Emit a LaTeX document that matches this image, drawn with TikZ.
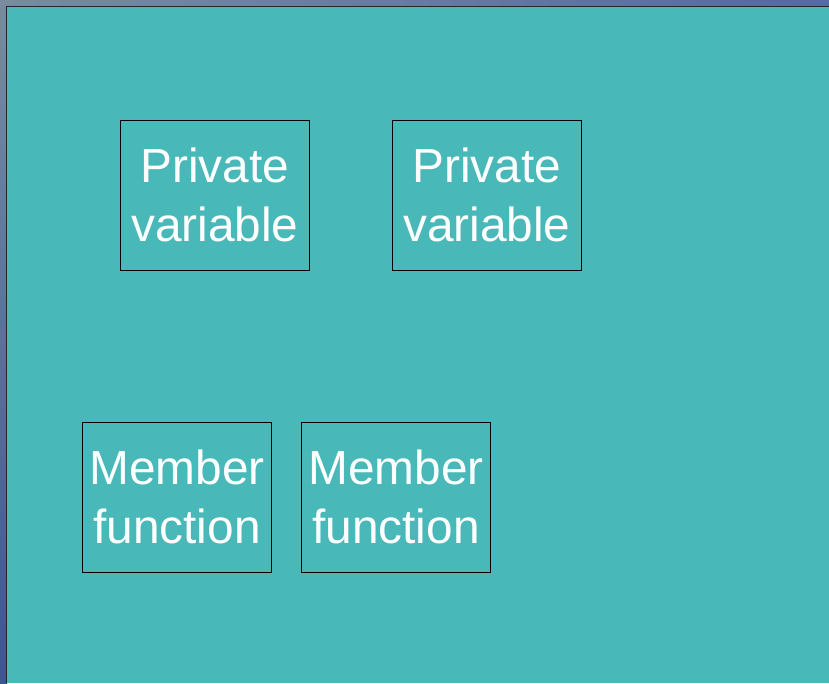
\documentclass[tikz,border=0pt]{standalone}
\usepackage{fontspec}
\setmainfont{Liberation Sans}
\definecolor{slide}{HTML}{48B8B8}
\definecolor{frameA}{HTML}{7A8AA0}
\definecolor{frameB}{HTML}{5868A0}
\definecolor{frameC}{HTML}{3A5890}
\tikzset{
  block/.style={draw=black, line width=0.8pt, minimum width=189pt, minimum height=150pt,
    inner sep=0pt, align=center, text=white,
    font=\fontsize{47.8}{59}\selectfont, anchor=north west}
}
\begin{document}
\begin{tikzpicture}[x=1pt, y=-1pt]
  \useasboundingbox (0,0) rectangle (829,683);
  % window frame
  \shade[left color=frameA, right color=frameB] (0,0) rectangle (829,7);
  \shade[top color=frameA, bottom color=frameC] (0,0) rectangle (7,683);
  % slide area
  \fill[slide] (6,6) rectangle (829,683);
  \draw[black!85, line width=1.5pt] (6.5,683) -- (6.5,6.5) -- (829,6.5);
  % boxes
  \node[block] (pv1) at (120,120) {Private\\variable};
  \node[block] (pv2) at (392,120) {Private\\variable};
  \node[block] (mf1) at (82,422) {Member\\function};
  \node[block] (mf2) at (301,422) {Member\\function};
\end{tikzpicture}
\end{document}
